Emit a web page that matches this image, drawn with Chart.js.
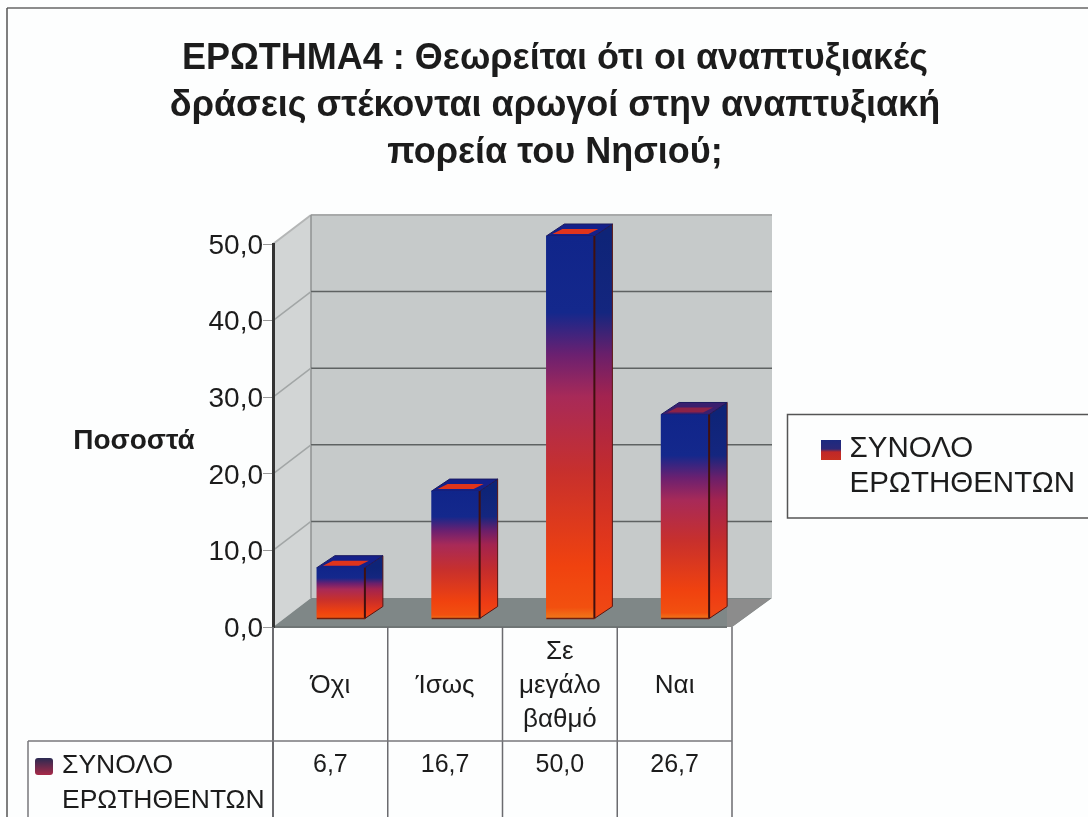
<!DOCTYPE html>
<html><head><meta charset="utf-8">
<style>html,body{margin:0;padding:0;background:#fdfefe}canvas{display:block}</style>
<script src="https://cdn.jsdelivr.net/npm/chart.js@4"></script>
</head><body><canvas id="c" width="1088" height="817"></canvas>
<script>
const categories = [["Όχι"], ["Ίσως"], ["Σε","μεγάλο","βαθμό"], ["Ναι"]];
const seriesName = ["ΣΥΝΟΛΟ", "ΕΡΩΤΗΘΕΝΤΩΝ"];
const values = [6.7, 16.7, 50.0, 26.7];
const yTicks = [0, 10, 20, 30, 40, 50];
const titleLines = ["ΕΡΩΤΗΜΑ4 : Θεωρείται ότι οι αναπτυξιακές", "δράσεις στέκονται αρωγοί στην αναπτυξιακή", "πορεία του Νησιού;"];
const yTitle = "Ποσοστά";

const FONT = '"Liberation Sans", Arial, sans-serif';
const WALL = {dx: 38, dy: -29};
const BAR = {dx: 10.5, dy: -8, depthX: 18, depthY: -12, width: 48};
const fmt = v => v.toFixed(1).replace('.', ',');

function barGradient(ctx, top, base, dark) {
  const g = ctx.createLinearGradient(0, top, 0, base);
  const s = dark ? [['#0e2478',0],['#14267f',.2],['#6a1f6a',.31],['#a3234f',.42],['#c42c2c',.62],['#ee3c14',.88],['#f04a14',1]]
                 : [['#10258a',0],['#14288c',.2],['#6b2070',.31],['#a82a58',.42],['#c8302c',.62],['#f0420f',.86],['#f2500f',.97],['#f07a1a',1]];
  s.forEach(([c, p]) => g.addColorStop(p, c));
  return g;
}
function poly(ctx, pts, fill, stroke, lw) {
  ctx.beginPath();
  pts.forEach((p, i) => i ? ctx.lineTo(p[0], p[1]) : ctx.moveTo(p[0], p[1]));
  ctx.closePath();
  if (fill) { ctx.fillStyle = fill; ctx.fill(); }
  if (stroke) { ctx.strokeStyle = stroke; ctx.lineWidth = lw || 1; ctx.stroke(); }
}
function line(ctx, x1, y1, x2, y2, color, lw) {
  ctx.beginPath(); ctx.moveTo(x1, y1); ctx.lineTo(x2, y2);
  ctx.strokeStyle = color; ctx.lineWidth = lw || 1; ctx.stroke();
}
function text(ctx, s, x, y, font, align, color) {
  ctx.font = font; ctx.textAlign = align || 'left'; ctx.textBaseline = 'middle';
  ctx.fillStyle = color || '#1c1c1c'; ctx.fillText(s, x, y);
}

const scene = {
  id: 'scene',
  beforeDraw(chart) {
    const {ctx, chartArea: a, scales: {y}} = chart;
    ctx.save();
    ctx.fillStyle = '#fdfefe'; ctx.fillRect(0, 0, chart.width, chart.height);
    line(ctx, 7, 8, 1088, 8, '#666', 1.5);
    line(ctx, 7, 8, 7, 817, '#555', 1.5);
    titleLines.forEach((t, i) => text(ctx, t, 555, 59.5 + i * 47, 'bold 36px ' + FONT, 'center'));
    text(ctx, yTitle, 134, 441, 'bold 28px ' + FONT, 'center');
    const y0 = y.getPixelForValue(0), yT = y.getPixelForValue(50);
    const W = WALL, wr = a.right + W.dx + 2;
    poly(ctx, [[a.left + W.dx, yT + W.dy], [wr, yT + W.dy], [wr, y0 + W.dy], [a.left + W.dx, y0 + W.dy]], '#c6caca');
    poly(ctx, [[a.left, yT], [a.left + W.dx, yT + W.dy], [a.left + W.dx, y0 + W.dy], [a.left, y0]], '#d2d5d5');
    line(ctx, a.left + W.dx, yT + W.dy, wr, yT + W.dy, '#a8aaaa', 2);
    line(ctx, a.left, yT, a.left + W.dx, yT + W.dy, '#b4b6b6', 2);
    line(ctx, a.left + W.dx, yT + W.dy, a.left + W.dx, y0 + W.dy, '#8f9292', 1.5);
    yTicks.slice(1, -1).forEach(v => {
      const p = y.getPixelForValue(v);
      line(ctx, a.left + W.dx, p + W.dy, wr, p + W.dy, '#5e6262', 1.5);
      line(ctx, a.left, p, a.left + W.dx, p + W.dy, '#a2a6a6', 1.5);
    });
    poly(ctx, [[a.left, y0], [a.left + W.dx, y0 + W.dy], [wr, y0 + W.dy], [a.right, y0]], '#7f8787');
    poly(ctx, [[a.right - 5, y0], [a.right - 5, y0 + W.dy + 1], [wr - 2, y0 + W.dy + 1], [a.right, y0]], '#8c8c8c');
    line(ctx, a.left, y0, a.right - 5, y0, '#6f7575', 2);
    ctx.restore();
  },
  beforeDatasetDraw(chart, args) {
    const ctx = chart.ctx, meta = args.meta;
    ctx.save();
    ctx.translate(BAR.dx, BAR.dy);
    meta.data.forEach((b, i) => {
      const l = b.x - b.width / 2, r = b.x + b.width / 2, t = b.y, bt = b.base;
      const dx = BAR.depthX, dy = BAR.depthY;
      poly(ctx, [[r, t], [r + dx, t + dy], [r + dx, bt + dy], [r, bt]], barGradient(ctx, t, bt, true), '#5a1410', 1);
      const topFill = i === 3 ? '#3a1f6e' : '#14208a';
      poly(ctx, [[l, t], [l + dx, t + dy], [r + dx, t + dy], [r, t]], topFill, '#1a1a60', 1);
      const inner = i === 3 ? '#8c2248' : '#e0341c';
      poly(ctx, [[l + 6, t - 2], [l + dx - 2, t + dy + 5], [r + dx - 14, t + dy + 5], [r - 6, t - 2]], inner);
    });
  },
  afterDatasetDraw(chart) {
    chart.ctx.restore();
    const ctx = chart.ctx, meta = chart.getDatasetMeta(0);
    ctx.save();
    ctx.translate(BAR.dx, BAR.dy);
    meta.data.forEach(b => {
      const r = b.x + b.width / 2;
      line(ctx, r, b.y, r, b.base, '#40100f', 2);
      line(ctx, b.x - b.width / 2, b.base, r, b.base, '#702010', 1.5);
    });
    ctx.restore();
  },
  afterDraw(chart) {
    const {ctx, chartArea: a, scales: {x, y}} = chart;
    const y0 = y.getPixelForValue(0);
    ctx.save();
    const rowY = 741, bottom = chart.height;
    const step = x.getPixelForValue(1) - x.getPixelForValue(0);
    for (let i = 0; i <= categories.length; i++) {
      const px = x.getPixelForValue(0) - step / 2 + i * step;
      line(ctx, px, y0, px, bottom, '#6b6b6f', i === 0 ? 2 : 1.5);
    }
    line(ctx, 28, rowY, a.right, rowY, '#77777b', 1.5);
    line(ctx, 28, rowY, 28, bottom, '#77777b', 1.5);
    const catFont = '26px ' + FONT;
    categories.forEach((lines, i) => {
      const cx = x.getPixelForValue(i);
      lines.forEach((s, k) => text(ctx, s, cx, 686 + (k - (lines.length - 1) / 2) * 34, catFont, 'center'));
      text(ctx, fmt(values[i]), cx, 765, '25px ' + FONT, 'center');
    });
    const g1 = ctx.createLinearGradient(0, 758, 0, 775);
    g1.addColorStop(0, '#2a2a52'); g1.addColorStop(1, '#a82a48');
    ctx.fillStyle = g1; ctx.beginPath(); ctx.roundRect(35, 758, 18, 17, 3); ctx.fill();
    text(ctx, seriesName[0], 62, 766, '26.5px ' + FONT);
    text(ctx, seriesName[1], 62, 801, '26.5px ' + FONT);
    ctx.strokeStyle = '#555'; ctx.lineWidth = 1.5;
    ctx.beginPath(); ctx.moveTo(chart.width + 2, 414.5); ctx.lineTo(787.5, 414.5); ctx.lineTo(787.5, 518); ctx.lineTo(chart.width + 2, 518); ctx.stroke();
    const g2 = ctx.createLinearGradient(0, 440, 0, 460);
    g2.addColorStop(0, '#1c2a80'); g2.addColorStop(.45, '#2c2878'); g2.addColorStop(.6, '#c02828'); g2.addColorStop(1, '#c83020');
    ctx.fillStyle = g2; ctx.fillRect(821, 440, 20, 20);
    text(ctx, seriesName[0], 849.5, 449, '29.5px ' + FONT);
    text(ctx, seriesName[1], 849.5, 484, '29.5px ' + FONT);
    ctx.restore();
  }
};

new Chart(document.getElementById('c'), {
  type: 'bar',
  data: {
    labels: categories.map(c => c.join(' ')),
    datasets: [{
      label: seriesName.join(' '),
      data: values,
      barThickness: BAR.width,
      borderWidth: 0,
      backgroundColor(ctx) {
        const ch = ctx.chart;
        if (!ch.chartArea || ctx.dataIndex === undefined) return '#c8302c';
        const yS = ch.scales.y;
        return barGradient(ch.ctx, yS.getPixelForValue(values[ctx.dataIndex]), yS.getPixelForValue(0), false);
      }
    }]
  },
  options: {
    responsive: false,
    animation: false,
    events: [],
    layout: {padding: {left: 0, right: 356, top: 244, bottom: 190}},
    plugins: {legend: {display: false}, title: {display: false}, tooltip: {enabled: false}},
    scales: {
      x: {display: false, offset: true, grid: {display: false}},
      y: {
        min: 0, max: 50,
        afterBuildTicks(axis) { axis.ticks = yTicks.map(v => ({value: v})); },
        afterFit(axis) { axis.width = 273; },
        border: {display: true, color: '#333', width: 3},
        grid: {drawOnChartArea: false, drawTicks: true, tickLength: 10, color: '#999'},
        ticks: {
          padding: 0,
          labelOffset: 2,
          color: '#1c1c1c',
          font: {family: FONT, size: 28},
          callback: v => fmt(v)
        }
      }
    }
  },
  plugins: [scene]
});
</script></body></html>
